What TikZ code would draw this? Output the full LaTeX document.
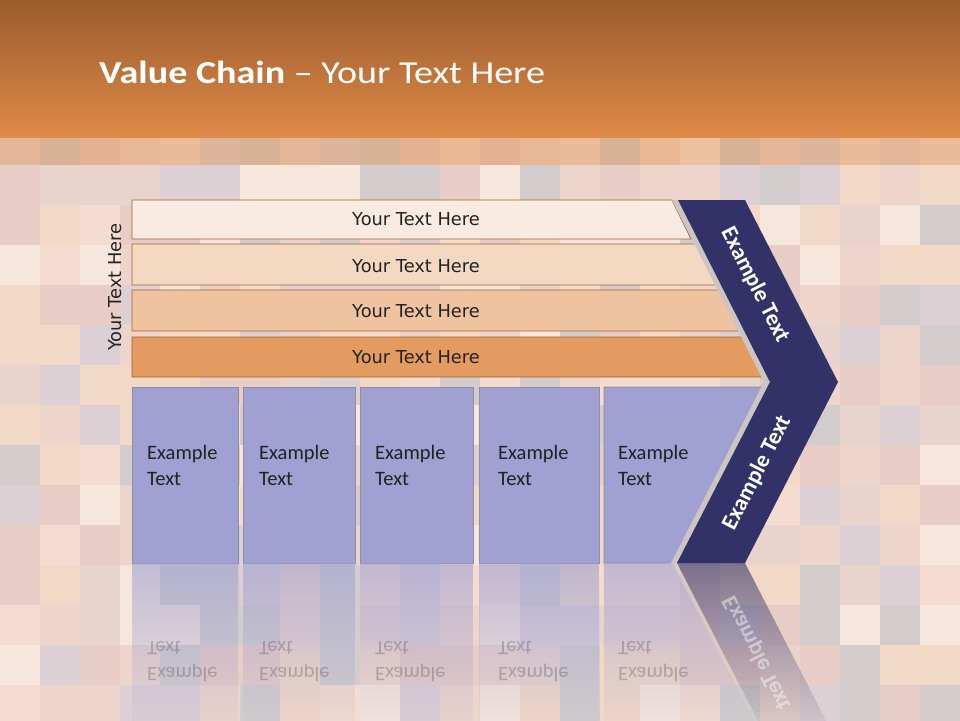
\documentclass[tikz,border=0pt]{standalone}
\usepackage{fontspec}
\setmainfont{Carlito}
\newfontfamily\dejavu{DejaVu Sans}
\usetikzlibrary{fadings}
\definecolor{titletop}{HTML}{9B5C2D}
\definecolor{titlebot}{HTML}{DF8A48}
\definecolor{bandline}{HTML}{A4622E}
\definecolor{band1}{HTML}{F9EBE1}
\definecolor{band2}{HTML}{F4D9C2}
\definecolor{band3}{HTML}{EFC3A0}
\definecolor{band4}{HTML}{E39B60}
\definecolor{cellfill}{HTML}{A0A0D2}
\definecolor{cellline}{HTML}{8E8E9E}
\definecolor{navy}{HTML}{323268}
\definecolor{bevel}{HTML}{CBC6C2}
\definecolor{textdark}{HTML}{222222}
\definecolor{mos1}{HTML}{F6E6DC}
\definecolor{mos2}{HTML}{EDD5CB}
\definecolor{mos3}{HTML}{D2CDCC}
\definecolor{mos4}{HTML}{E8CCC6}
\definecolor{mos5}{HTML}{F4DCD0}
\definecolor{mos6}{HTML}{DDD0D4}
\definecolor{mos7}{HTML}{F2D9C7}
\definecolor{mos8}{HTML}{E9D3CD}
\tikzfading[name=reflfade, top color=transparent!40, middle color=transparent!80, bottom color=transparent!100]

\begin{document}
\begin{tikzpicture}[x=1pt,y=-1pt,
  band/.style={draw=bandline,line width=0.8pt},
  cell/.style={draw=cellline,line width=0.8pt,fill=cellfill},
  bandtext/.style={font=\dejavu\fontsize{17.8}{21}\selectfont,text=textdark},
  celltext/.style={font=\fontsize{20.5}{26}\selectfont,text=textdark,align=left,anchor=base west,inner sep=0pt},
  chevtext/.style={font=\bfseries\fontsize{23}{27}\selectfont,text=white}]
\useasboundingbox (0,0) rectangle (960,720);

% mosaic background
\pgfmathsetseed{11}
\foreach \i in {0,...,23}
  \foreach \j in {0,...,14}{
    \pgfmathrandominteger{\k}{1}{8}
    \fill[mos\k] (40*\i,125+40*\j) rectangle ++(40,40);
  }

% title band
\shade[top color=titletop,bottom color=titlebot] (0,0) rectangle (960,137);
\fill[titlebot,opacity=0.4] (0,137) rectangle (960,165);
\node[anchor=base west,inner sep=0pt,xscale=1.19,text=white,font=\fontsize{32}{38}\selectfont] (title) at (99,83.5) {\textbf{Value Chain} -- Your Text Here};

% support bands
\draw[band,fill=band1] (132,200) -- (672,200) -- (691,239) -- (132,239) -- cycle;
\draw[band,fill=band2] (132,244) -- (697,244) -- (716,285) -- (132,285) -- cycle;
\draw[band,fill=band3] (132,290) -- (720,290) -- (740,331) -- (132,331) -- cycle;
\draw[band,fill=band4] (132,337) -- (744,337) -- (764,377) -- (132,377) -- cycle;
\node[bandtext] (b1) at (416,219.5) {Your Text Here};
\node[bandtext] (b2) at (416,266) {Your Text Here};
\node[bandtext] (b3) at (416,311) {Your Text Here};
\node[bandtext] (b4) at (416,357) {Your Text Here};
\node[bandtext,rotate=90] (side) at (115,287) {Your Text Here};

% primary activities
\draw[cell] (132,387) rectangle (238,563);
\draw[cell] (243,387) rectangle (355,563);
\draw[cell] (360,387) rectangle (473,563);
\draw[cell] (479,387) rectangle (599,563);
\draw[cell] (604,387) -- (763,387) -- (673,563) -- (604,563) -- cycle;
\node[celltext] (e1) at (147,485) {Example\\Text};
\node[celltext] (e2) at (259,485) {Example\\Text};
\node[celltext] (e3) at (375,485) {Example\\Text};
\node[celltext] (e4) at (498,485) {Example\\Text};
\node[celltext] (e5) at (618,485) {Example\\Text};

% margin chevron
\fill[bevel] (672,200) -- (739,200) -- (832,382) -- (739,563) -- (671,563) -- (764,382) -- cycle;
\fill[navy] (678,200) -- (745,200) -- (838,382) -- (745,563) -- (677,563) -- (770,382) -- cycle;
\node[chevtext,rotate=-63] (m1) at (755,285) {Example Text};
\node[chevtext,rotate=63] (m2) at (757,473) {Example Text};

% reflection
\fill[cellfill,path fading=reflfade] (132,563) rectangle (238,739);
\fill[cellfill,path fading=reflfade] (243,563) rectangle (355,739);
\fill[cellfill,path fading=reflfade] (360,563) rectangle (473,739);
\fill[cellfill,path fading=reflfade] (479,563) rectangle (599,739);
\fill[cellfill,path fading=reflfade] (604,563) -- (673,563) -- (763,739) -- (604,739) -- cycle;
\fill[bevel,path fading=reflfade] (671,563) -- (677,563) -- (770,744) -- (764,744) -- cycle;
\fill[navy,path fading=reflfade] (677,563) -- (745,563) -- (838,744) -- (770,744) -- cycle;
\foreach \x/\n in {147/1,259/2,375/3,498/4,618/5}
  \node[celltext,yscale=-1,text opacity=0.25] (r\n) at (\x,641) {Example\\Text};
\node[chevtext,yscale=-1,rotate=63,text opacity=0.45] (rm) at (757,653) {Example Text};
\end{tikzpicture}
\end{document}
